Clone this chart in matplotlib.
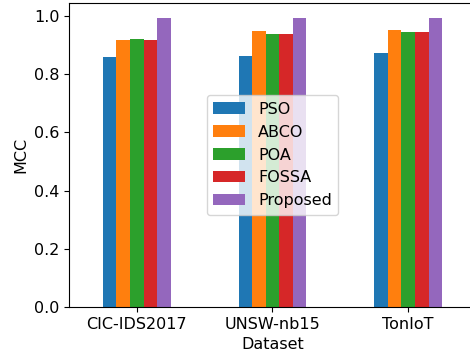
import numpy as np
import matplotlib.pyplot as plt

datasets = ["CIC-IDS2017", "UNSW-nb15", "TonIoT"]
methods = ["PSO", "ABCO", "POA", "FOSSA", "Proposed"]
pso = [0.860, 0.863, 0.872]
abco = [0.917, 0.949, 0.952]
poa = [0.922, 0.936, 0.944]
fossa = [0.917, 0.936, 0.946]
proposed = [0.994, 0.991, 0.994]
colors = ["#1f77b4", "#ff7f0e", "#2ca02c", "#d62728", "#9467bd"]

plt.rcParams["font.size"] = 11.5

fig = plt.figure(figsize=(4.7, 3.54), dpi=100)
ax = fig.add_axes([69 / 470, 47 / 354, 407 / 470, 304 / 354])

x = np.arange(len(datasets))
width = 0.1
series = [pso, abco, poa, fossa, proposed]
for i, (name, vals) in enumerate(zip(methods, series)):
    ax.bar(x - 0.25 + width * (i + 0.5), vals, width, color=colors[i], label=name)

ax.set_xticks(x)
ax.set_xticklabels(datasets)
ax.set_xlim(-0.5, 2.5)
ax.set_ylim(0, 1.044)
ax.set_xlabel("Dataset")
ax.set_ylabel("MCC")
ax.legend(loc="center")

fig.savefig("out.png", dpi=100)
